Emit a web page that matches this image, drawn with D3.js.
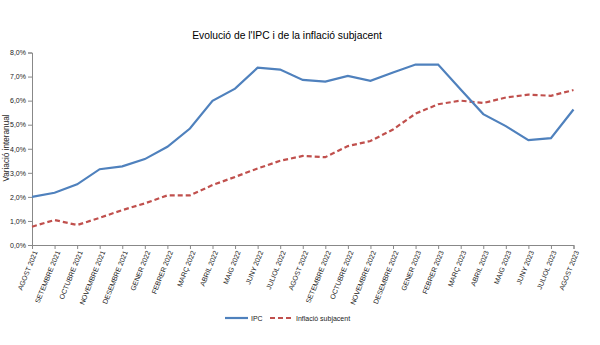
<!DOCTYPE html>
<html><head><meta charset="utf-8">
<script src="https://cdn.jsdelivr.net/npm/d3@7"></script>
<style>body{margin:0;background:#fff}svg{display:block;font-family:"Liberation Sans",Arial,sans-serif}</style>
</head><body>
<svg id="c" width="600" height="345"></svg>
<script>
const months = ["AGOST 2021","SETEMBRE 2021","OCTUBRE 2021","NOVEMBRE 2021","DESEMBRE 2021","GENER 2022","FEBRER 2022","MARÇ 2022","ABRIL 2022","MAIG 2022","JUNY 2022","JULIOL 2022","AGOST 2022","SETEMBRE 2022","OCTUBRE 2022","NOVEMBRE 2022","DESEMBRE 2022","GENER 2023","FEBRER 2023","MARÇ 2023","ABRIL 2023","MAIG 2023","JUNY 2023","JULIOL 2023","AGOST 2023"];
const ipc = [2.0,2.17,2.52,3.15,3.27,3.57,4.08,4.84,5.99,6.5,7.37,7.29,6.86,6.79,7.03,6.82,7.17,7.5,7.5,6.46,5.44,4.94,4.36,4.44,5.63];
const subjacent = [0.76,1.04,0.83,1.13,1.45,1.73,2.06,2.06,2.49,2.83,3.18,3.5,3.7,3.65,4.11,4.32,4.8,5.46,5.85,6.0,5.9,6.13,6.25,6.2,6.44];
const yTicks = [0,1,2,3,4,5,6,7,8];
const seriesNames = ["IPC","Inflació subjacent"];

const svg = d3.select("#c");
const L=32, R=573.5, T=52.5, B=245;
const x = d3.scalePoint().domain(months).range([L,R]);
const y = d3.scaleLinear().domain([0,8]).range([B,T]);
const fmt = v => d3.format(".1f")(v).replace(".",",")+"%";

svg.append("text").attr("x",287).attr("y",38.5).attr("text-anchor","middle")
  .attr("font-size",10.3).attr("fill","#000").text("Evolució de l'IPC i de la inflació subjacent");

const ya = svg.append("g").attr("transform",`translate(${L},0)`)
  .call(d3.axisLeft(y).tickValues(yTicks).tickFormat(fmt).tickSize(4).tickPadding(2));
ya.selectAll("text").attr("font-size",7).attr("fill","#222").attr("font-family","Liberation Sans, Arial, sans-serif");
const xa = svg.append("g").attr("transform",`translate(0,${B})`)
  .call(d3.axisBottom(x).tickSize(4).tickPadding(3));
xa.selectAll("text").attr("font-size",7).attr("fill","#222").attr("font-family","Liberation Sans, Arial, sans-serif")
  .attr("text-anchor","end").attr("dy","0.35em")
  .attr("transform","translate(3,6) rotate(-68)").attr("y",0).attr("x",0);
svg.selectAll(".domain, .tick line").attr("stroke","#888");

svg.append("text").attr("transform",`translate(8.5,148) rotate(-90)`)
  .attr("text-anchor","middle").attr("font-size",8.2).attr("fill","#222").text("Variació interanual");

const line = d3.line().x((d,i)=>x(months[i])).y(d=>y(d));
svg.append("path").datum(subjacent).attr("d",line).attr("fill","none")
  .attr("stroke","#C0504D").attr("stroke-width",2.2).attr("stroke-dasharray","5,3");
svg.append("path").datum(ipc).attr("d",line).attr("fill","none")
  .attr("stroke","#4F81BD").attr("stroke-width",2.2);

const lg = svg.append("g");
lg.append("line").attr("x1",225).attr("x2",248).attr("y1",318).attr("y2",318).attr("stroke","#4F81BD").attr("stroke-width",2.2);
lg.append("text").attr("x",251).attr("y",320.5).attr("font-size",7).attr("fill","#222").text(seriesNames[0]);
lg.append("line").attr("x1",270).attr("x2",292).attr("y1",318).attr("y2",318).attr("stroke","#C0504D").attr("stroke-width",2.2).attr("stroke-dasharray","5,3");
lg.append("text").attr("x",296).attr("y",320.5).attr("font-size",7).attr("fill","#222").text(seriesNames[1]);
</script>
</body></html>
